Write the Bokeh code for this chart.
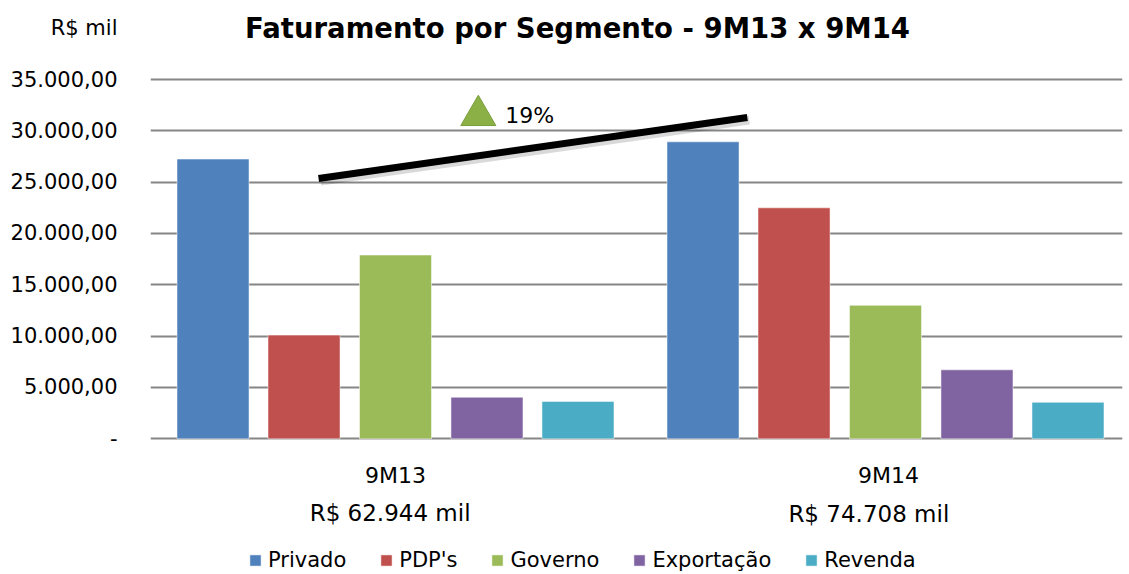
from bokeh.plotting import figure
from bokeh.models import (Range1d, ColumnDataSource, Label, Legend, LegendItem,
                          FixedTicker)
from bokeh.core.properties import value
from bokeh.embed import file_html
from bokeh.resources import INLINE

# ---- data ----
periods = ["9M13", "9M14"]
period_totals = ["R$ 62.944 mil", "R$ 74.708 mil"]
segments = ["Privado", "PDP's", "Governo", "Exportação", "Revenda"]
privado = [27250, 28930]
pdps = [10100, 22500]
governo = [17900, 13000]
exportacao = [4050, 6720]
revenda = [3644, 3558]
series = [privado, pdps, governo, exportacao, revenda]
colors = ["#4F81BD", "#C0504D", "#9BBB59", "#8064A2", "#4BACC6"]
y_ticks = [0, 5000, 10000, 15000, 20000, 25000, 30000, 35000]
y_tick_labels = ["-", "5.000,00", "10.000,00", "15.000,00", "20.000,00",
                 "25.000,00", "30.000,00", "35.000,00"]
unit_label = "R$ mil"
title_text = "Faturamento por Segmento - 9M13 x 9M14"
growth_label = "19%"
trend_x = [0.343, 1.218]
trend_y = [25350, 31300]

FONT = "DejaVu Sans"
W, H = 1129, 574
# frame spans the whole height; value 0 sits at 438.3 px, 35000 at 79 px
px_per_val = (438.3 - 79) / 35000
y_top = 438.3 / px_per_val
y_bot = -(H - 438.3) / px_per_val
unit_tick = 40000

p = figure(width=W, height=H, output_backend="svg", toolbar_location=None,
           x_range=Range1d(0, 972 / 490), y_range=Range1d(y_bot, y_top),
           min_border_left=150, min_border_right=7, min_border_top=0,
           min_border_bottom=0, outline_line_color=None)

centers = [0.5, 1.5]
offsets = [-0.3724, -0.1867, 0.0, 0.1867, 0.3724]
bar_w = 0.147

items = []
for name, vals, col, off in zip(segments, series, colors, offsets):
    src = ColumnDataSource(dict(x=[c + off for c in centers], top=vals))
    r = p.vbar(x="x", top="top", width=bar_w, source=src, fill_color=col,
               line_color="white", line_alpha=0.5, line_width=1)
    items.append(LegendItem(label=name, renderers=[r]))

# trend line with soft shadow
p.line([x + 0.004 for x in trend_x], [y - 250 for y in trend_y],
       line_width=9, line_color="black", line_alpha=0.15)
p.line(trend_x, trend_y, line_width=7, line_color="black")
p.scatter([0.669], [31500], marker="triangle", size=35,
          fill_color="#8BB046", line_color="#7A9E3B", line_width=1)
p.add_layout(Label(x=0.724, y=31500, text=growth_label, text_font=FONT,
                   text_font_size="22px", text_baseline="middle",
                   text_color="black"))

# y axis (the unit text sits on an extra tick above the scale)
ticks_all = y_ticks + [unit_tick]
labels_all = y_tick_labels + [unit_label]
p.yaxis.ticker = FixedTicker(ticks=ticks_all)
p.yaxis.major_label_overrides = {t: l for t, l in zip(ticks_all, labels_all)}
p.yaxis.axis_line_color = None
p.yaxis.major_tick_line_color = None
p.yaxis.minor_tick_line_color = None
p.yaxis.major_tick_out = 0
p.yaxis.major_tick_in = 0
p.yaxis.major_label_standoff = 33
p.yaxis.major_label_text_font = FONT
p.yaxis.major_label_text_font_size = "21px"
p.yaxis.major_label_text_color = "black"

p.xaxis.visible = False
p.xgrid.grid_line_color = None
p.ygrid.ticker = FixedTicker(ticks=y_ticks)
p.ygrid.grid_line_color = "#868686"
p.ygrid.grid_line_width = 2

# category labels and totals
cat_src = ColumnDataSource(dict(x=[centers[0], centers[1] + 0.006],
                                y=[-3530, -3530], text=periods))
p.text(x="x", y="y", text="text", source=cat_src, text_font=value(FONT),
       text_font_size="22px", text_align="center", text_baseline="middle",
       text_color="black")
tot_src = ColumnDataSource(dict(x=[centers[0] - 0.011, centers[1] - 0.034],
                                y=[-7250, -7300], text=period_totals))
p.text(x="x", y="y", text="text", source=tot_src, text_font=value(FONT),
       text_font_size="23px", text_align="center", text_baseline="middle",
       text_color="black")

# title
p.add_layout(Label(x=(577 - 150) / 490, y=40000, text=title_text,
                   text_font=FONT, text_font_size="27.5px", text_font_style="bold",
                   text_align="center", text_baseline="middle", text_color="black"))

legend = Legend(items=items, orientation="horizontal", location=(98, 2),
                glyph_width=14, glyph_height=14, label_standoff=6, spacing=33,
                padding=0, margin=0, border_line_color=None,
                background_fill_alpha=0, label_text_font=FONT,
                label_text_font_size="21px", label_height=14,
                label_text_color="black")
p.add_layout(legend, "center")

open("out.html", "w").write(file_html(p, INLINE))
